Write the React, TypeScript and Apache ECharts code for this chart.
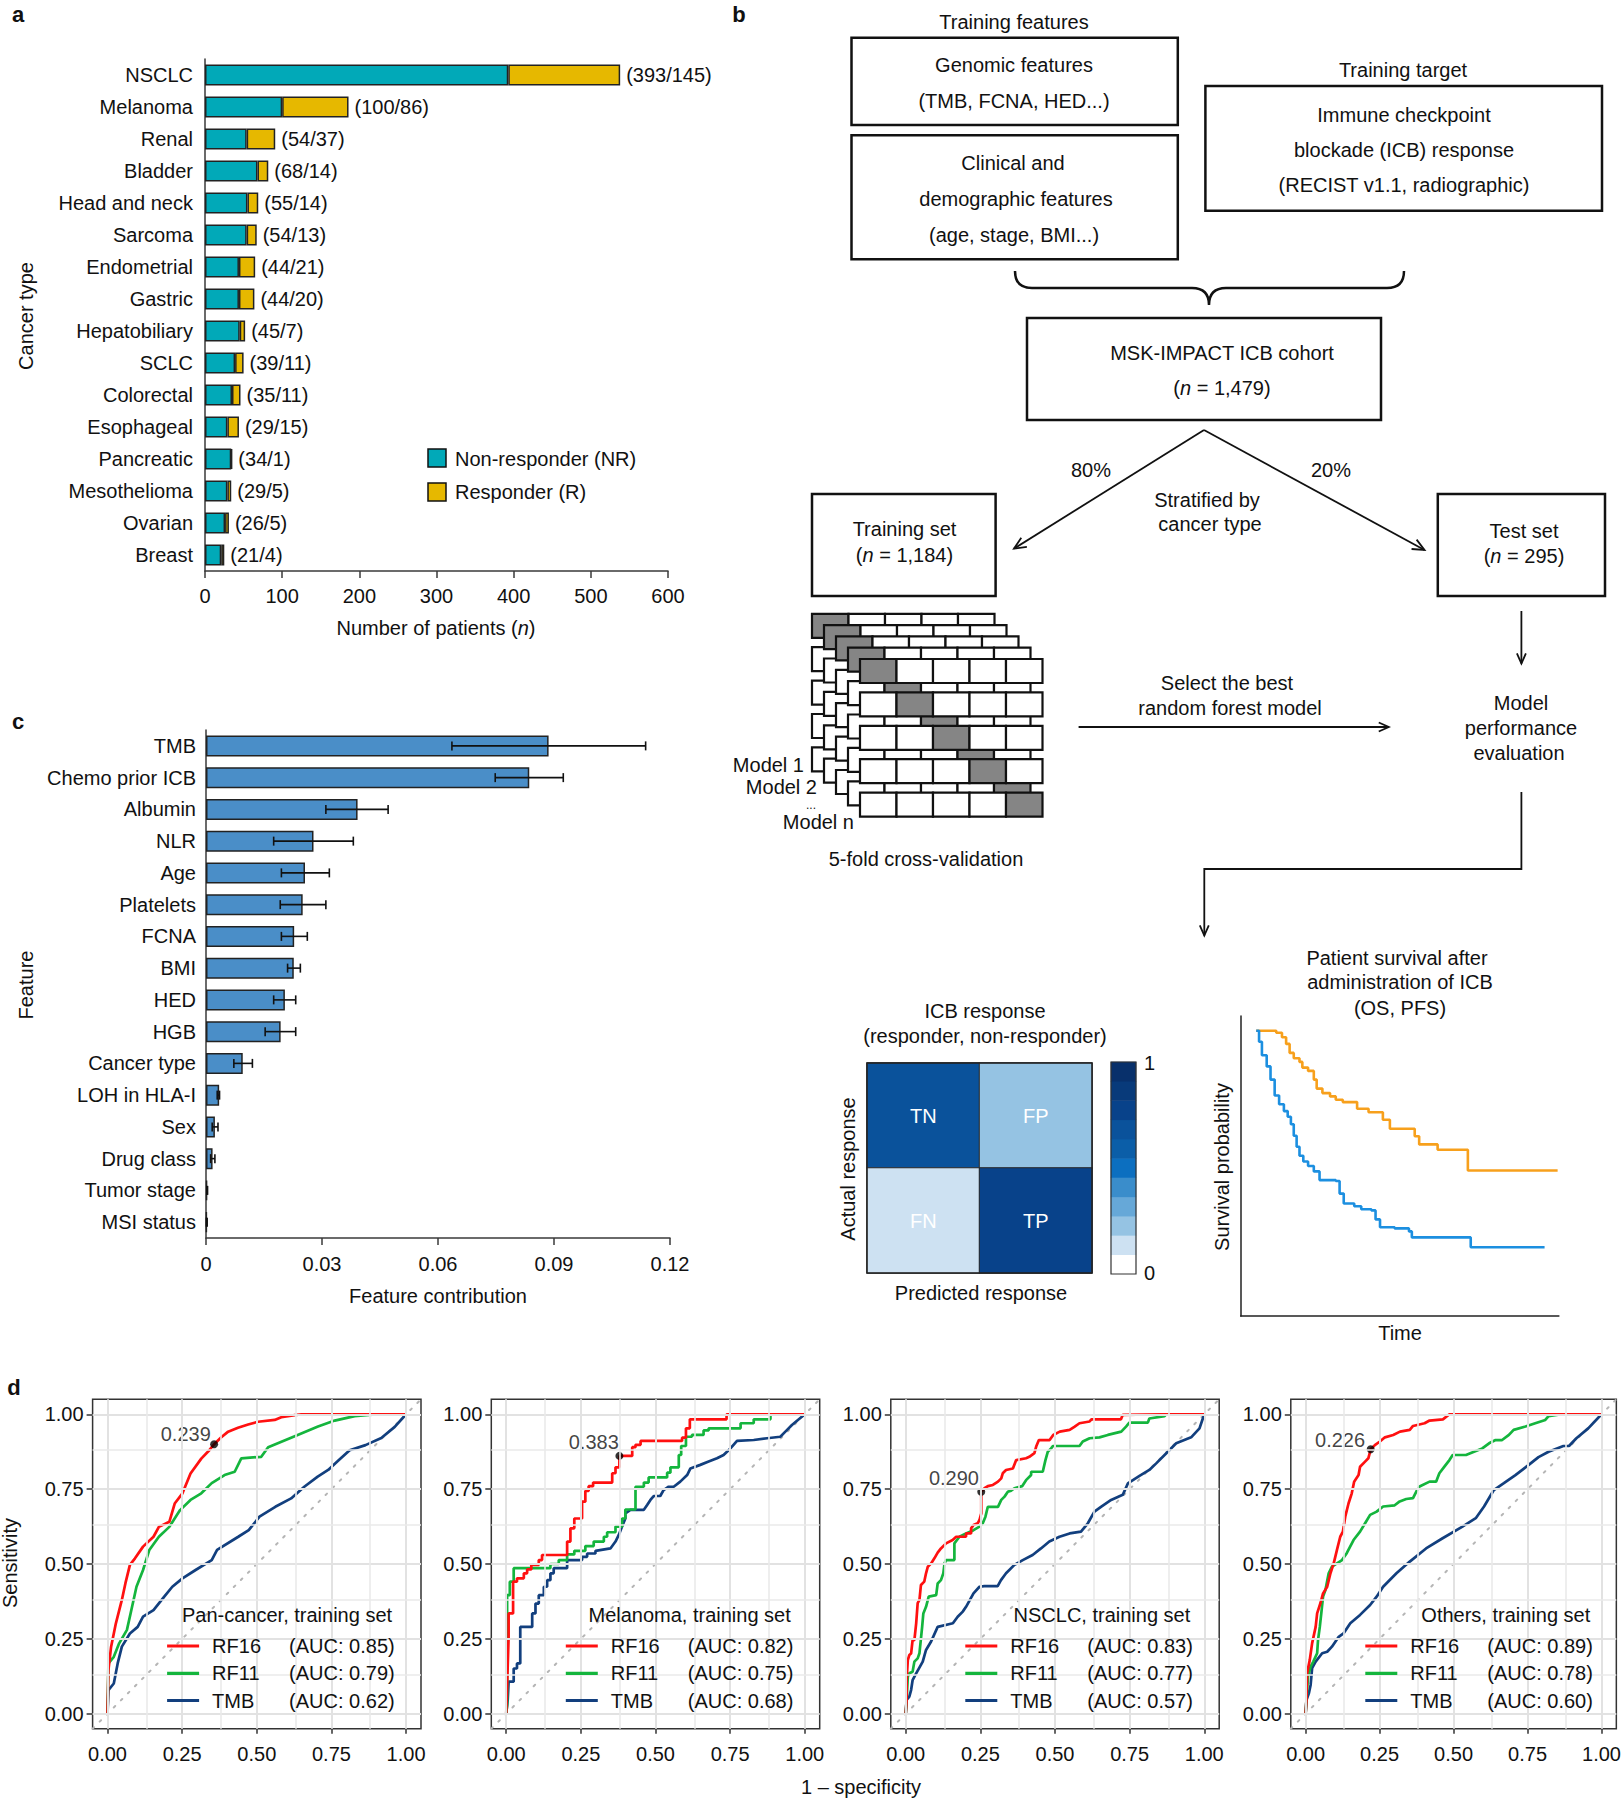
import React, { useEffect, useRef } from "react";
import * as echarts from "echarts";

const FONT = "'Liberation Sans', Arial, Helvetica, sans-serif";
const INK = "#111111";

// ---------------- Panel a: cancer types ----------------
const cancerTypes = ["NSCLC", "Melanoma", "Renal", "Bladder", "Head and neck", "Sarcoma", "Endometrial", "Gastric", "Hepatobiliary", "SCLC", "Colorectal", "Esophageal", "Pancreatic", "Mesothelioma", "Ovarian", "Breast"];
const nonResponders = [393, 100, 54, 68, 55, 54, 44, 44, 45, 39, 35, 29, 34, 29, 26, 21];
const responders = [145, 86, 37, 14, 14, 13, 21, 20, 7, 11, 11, 15, 1, 5, 5, 4];

// ---------------- Panel c: feature contribution ----------------
const features = ["TMB", "Chemo prior ICB", "Albumin", "NLR", "Age", "Platelets", "FCNA", "BMI", "HED", "HGB", "Cancer type", "LOH in HLA-I", "Sex", "Drug class", "Tumor stage", "MSI status"];
const contribution = [0.0886, 0.0836, 0.0392, 0.0278, 0.0256, 0.025, 0.0228, 0.0227, 0.0204, 0.0193, 0.0095, 0.0034, 0.0023, 0.0017, 0.0003, 0.0002];
const contributionLow = [0.0636, 0.0748, 0.031, 0.0175, 0.0195, 0.0192, 0.0195, 0.0211, 0.0175, 0.0153, 0.0072, 0.0029, 0.0016, 0.0012, 0.0002, 0.0001];
const contributionHigh = [0.1137, 0.0924, 0.0471, 0.0381, 0.0319, 0.031, 0.0262, 0.0244, 0.0232, 0.0232, 0.012, 0.0035, 0.0031, 0.0023, 0.0004, 0.0003];

// ---------------- Panel b: schematic mini-charts ----------------
const cmLabels = ["TN", "FP", "FN", "TP"];
const cmValues = [0.68, 0.22, 0.14, 0.77];
const colorbarColors = ["#ffffff", "#cde1f2", "#95c3e3", "#66a8d8", "#3a8dcb", "#0c6fc0", "#0b5ea8", "#0a529b", "#08428a", "#083a7a", "#08306b"];
const survivalResponders = [[4.9, 0.951], [11.2, 0.944], [13.0, 0.929], [14.3, 0.907], [15.4, 0.877], [16.7, 0.859], [18.5, 0.847], [19.4, 0.828], [21.2, 0.817], [23.0, 0.788], [23.9, 0.758], [25.7, 0.743], [28.1, 0.732], [29.9, 0.721], [32.1, 0.713], [36.6, 0.691], [40.2, 0.679], [44.7, 0.654], [46.9, 0.624], [54.7, 0.599], [56.1, 0.572], [61.9, 0.554], [71.4, 0.485], [99.6, 0.485]];
const survivalNonResponders = [[4.9, 0.951], [5.8, 0.914], [6.7, 0.869], [8.2, 0.832], [9.4, 0.788], [10.7, 0.735], [12.1, 0.706], [13.6, 0.683], [14.8, 0.664], [15.8, 0.639], [16.7, 0.601], [17.6, 0.564], [18.5, 0.534], [19.7, 0.515], [21.2, 0.5], [23.0, 0.482], [24.8, 0.453], [29.9, 0.45], [31.1, 0.408], [32.4, 0.375], [35.7, 0.366], [37.9, 0.356], [41.1, 0.352], [42.4, 0.322], [43.8, 0.296], [48.4, 0.292], [52.9, 0.282], [53.8, 0.262], [72.3, 0.229], [95.5, 0.229]];

// ---------------- Panel d: ROC curves ----------------
const panCancerRF16 = [[0, 0], [0.003, 0.146], [0.012, 0.224], [0.028, 0.302], [0.048, 0.38], [0.06, 0.436], [0.075, 0.497], [0.092, 0.519], [0.119, 0.558], [0.154, 0.591], [0.172, 0.624], [0.207, 0.641], [0.225, 0.702], [0.251, 0.736], [0.278, 0.802], [0.314, 0.852], [0.341, 0.88], [0.357, 0.9], [0.381, 0.923], [0.404, 0.942], [0.437, 0.955], [0.471, 0.966], [0.504, 0.975], [0.56, 0.981], [0.582, 0.99], [0.627, 0.997], [0.65, 1], [1, 1]];
const panCancerRF11 = [[0, 0], [0.003, 0.168], [0.021, 0.19], [0.039, 0.235], [0.065, 0.28], [0.08, 0.347], [0.097, 0.424], [0.119, 0.48], [0.14, 0.547], [0.172, 0.591], [0.207, 0.624], [0.243, 0.68], [0.278, 0.714], [0.314, 0.736], [0.349, 0.77], [0.392, 0.797], [0.426, 0.808], [0.448, 0.853], [0.515, 0.858], [0.538, 0.89], [0.627, 0.927], [0.705, 0.959], [0.761, 0.979], [0.828, 0.994], [0.906, 1], [1, 1]];
const panCancerTMB = [[0, 0], [0.003, 0.079], [0.021, 0.101], [0.034, 0.168], [0.048, 0.224], [0.075, 0.268], [0.101, 0.29], [0.119, 0.324], [0.154, 0.346], [0.19, 0.391], [0.217, 0.424], [0.251, 0.452], [0.295, 0.48], [0.349, 0.513], [0.367, 0.547], [0.438, 0.591], [0.473, 0.613], [0.509, 0.658], [0.562, 0.691], [0.615, 0.719], [0.659, 0.758], [0.704, 0.792], [0.739, 0.814], [0.775, 0.847], [0.811, 0.88], [0.864, 0.897], [0.917, 0.921], [0.962, 0.958], [1, 1]];

const melanomaRF16 = [[0, 0], [0.008, 0.257], [0.008, 0.335], [0.023, 0.335], [0.023, 0.441], [0.036, 0.441], [0.036, 0.452], [0.059, 0.452], [0.059, 0.469], [0.07, 0.469], [0.07, 0.482], [0.084, 0.482], [0.084, 0.497], [0.109, 0.497], [0.109, 0.513], [0.12, 0.513], [0.12, 0.53], [0.204, 0.53], [0.204, 0.575], [0.215, 0.575], [0.215, 0.619], [0.228, 0.619], [0.228, 0.652], [0.254, 0.652], [0.254, 0.708], [0.265, 0.708], [0.265, 0.744], [0.276, 0.744], [0.276, 0.76], [0.291, 0.76], [0.291, 0.772], [0.355, 0.772], [0.355, 0.803], [0.366, 0.803], [0.366, 0.823], [0.379, 0.823], [0.379, 0.861], [0.422, 0.861], [0.422, 0.89], [0.433, 0.89], [0.433, 0.898], [0.45, 0.898], [0.45, 0.911], [0.589, 0.911], [0.589, 0.922], [0.602, 0.922], [0.602, 0.953], [0.615, 0.953], [0.615, 0.983], [0.738, 0.983], [0.738, 1], [1, 1]];
const melanomaRF11 = [[0, 0], [0.003, 0.03], [0.003, 0.396], [0.012, 0.396], [0.012, 0.441], [0.025, 0.441], [0.025, 0.486], [0.148, 0.486], [0.148, 0.5], [0.176, 0.5], [0.176, 0.513], [0.204, 0.513], [0.204, 0.532], [0.228, 0.532], [0.228, 0.544], [0.265, 0.544], [0.265, 0.56], [0.293, 0.56], [0.293, 0.575], [0.327, 0.575], [0.327, 0.591], [0.338, 0.591], [0.338, 0.606], [0.366, 0.606], [0.366, 0.625], [0.388, 0.625], [0.388, 0.652], [0.399, 0.652], [0.399, 0.682], [0.433, 0.682], [0.433, 0.758], [0.461, 0.758], [0.461, 0.772], [0.477, 0.772], [0.477, 0.789], [0.539, 0.789], [0.539, 0.805], [0.55, 0.805], [0.55, 0.823], [0.578, 0.823], [0.578, 0.864], [0.586, 0.864], [0.586, 0.894], [0.602, 0.894], [0.602, 0.925], [0.622, 0.925], [0.622, 0.931], [0.661, 0.931], [0.661, 0.946], [0.678, 0.946], [0.678, 0.953], [0.785, 0.953], [0.785, 0.97], [0.829, 0.97], [0.829, 0.983], [0.885, 0.983], [0.885, 1], [1, 1]];
const melanomaTMB = [[0, 0], [0.005, 0.046], [0.008, 0.107], [0.025, 0.107], [0.025, 0.151], [0.036, 0.151], [0.036, 0.168], [0.047, 0.168], [0.047, 0.29], [0.087, 0.29], [0.087, 0.335], [0.098, 0.335], [0.098, 0.368], [0.109, 0.368], [0.109, 0.396], [0.126, 0.396], [0.126, 0.424], [0.137, 0.424], [0.137, 0.446], [0.148, 0.446], [0.148, 0.469], [0.159, 0.469], [0.159, 0.486], [0.204, 0.486], [0.204, 0.513], [0.254, 0.513], [0.254, 0.524], [0.271, 0.524], [0.271, 0.535], [0.299, 0.535], [0.299, 0.544], [0.349, 0.552], [0.366, 0.575], [0.377, 0.597], [0.388, 0.625], [0.399, 0.652], [0.399, 0.669], [0.416, 0.681], [0.461, 0.681], [0.472, 0.697], [0.483, 0.714], [0.494, 0.727], [0.516, 0.727], [0.527, 0.747], [0.544, 0.758], [0.561, 0.758], [0.583, 0.775], [0.606, 0.797], [0.617, 0.819], [0.65, 0.831], [0.678, 0.842], [0.706, 0.853], [0.728, 0.864], [0.751, 0.886], [0.773, 0.911], [0.829, 0.914], [0.874, 0.92], [0.918, 0.925], [0.935, 0.942], [0.957, 0.964], [1, 1]];

const nsclcRF16 = [[0, 0], [0.003, 0.046], [0.003, 0.112], [0.007, 0.179], [0.012, 0.196], [0.018, 0.201], [0.023, 0.246], [0.029, 0.246], [0.035, 0.302], [0.04, 0.369], [0.046, 0.38], [0.051, 0.43], [0.062, 0.441], [0.068, 0.469], [0.074, 0.491], [0.085, 0.502], [0.096, 0.519], [0.107, 0.538], [0.118, 0.552], [0.135, 0.569], [0.157, 0.58], [0.169, 0.591], [0.202, 0.591], [0.202, 0.602], [0.219, 0.602], [0.219, 0.619], [0.227, 0.63], [0.241, 0.636], [0.247, 0.647], [0.253, 0.669], [0.253, 0.741], [0.264, 0.753], [0.275, 0.76], [0.292, 0.764], [0.309, 0.775], [0.32, 0.786], [0.325, 0.803], [0.336, 0.814], [0.359, 0.819], [0.37, 0.847], [0.403, 0.853], [0.414, 0.858], [0.431, 0.87], [0.437, 0.892], [0.446, 0.914], [0.482, 0.914], [0.494, 0.931], [0.516, 0.942], [0.549, 0.948], [0.566, 0.959], [0.582, 0.97], [0.616, 0.976], [0.622, 0.983], [0.721, 0.983], [0.727, 0.998], [0.861, 1], [1, 1]];
const nsclcRF11 = [[0, 0], [0.003, 0.046], [0.007, 0.124], [0.012, 0.135], [0.023, 0.14], [0.029, 0.174], [0.04, 0.185], [0.046, 0.202], [0.055, 0.29], [0.059, 0.335], [0.068, 0.357], [0.077, 0.391], [0.102, 0.396], [0.107, 0.435], [0.118, 0.446], [0.126, 0.469], [0.13, 0.502], [0.135, 0.513], [0.163, 0.513], [0.163, 0.569], [0.18, 0.591], [0.202, 0.602], [0.227, 0.613], [0.247, 0.625], [0.258, 0.636], [0.267, 0.658], [0.275, 0.691], [0.309, 0.691], [0.32, 0.714], [0.331, 0.725], [0.342, 0.741], [0.353, 0.745], [0.364, 0.753], [0.375, 0.756], [0.39, 0.76], [0.403, 0.78], [0.42, 0.797], [0.42, 0.808], [0.459, 0.808], [0.468, 0.847], [0.476, 0.875], [0.487, 0.886], [0.493, 0.894], [0.582, 0.894], [0.593, 0.909], [0.616, 0.92], [0.649, 0.923], [0.677, 0.931], [0.722, 0.942], [0.738, 0.959], [0.749, 0.972], [0.811, 0.972], [0.816, 0.986], [0.867, 0.994], [0.872, 1], [1, 1]];
const nsclcTMB = [[0, 0], [0.003, 0.046], [0.012, 0.057], [0.018, 0.079], [0.023, 0.112], [0.035, 0.135], [0.057, 0.174], [0.068, 0.213], [0.085, 0.241], [0.107, 0.29], [0.158, 0.302], [0.174, 0.324], [0.191, 0.341], [0.202, 0.357], [0.227, 0.402], [0.247, 0.424], [0.263, 0.426], [0.308, 0.426], [0.319, 0.446], [0.336, 0.469], [0.364, 0.497], [0.392, 0.513], [0.425, 0.53], [0.453, 0.552], [0.481, 0.575], [0.515, 0.591], [0.549, 0.602], [0.587, 0.608], [0.61, 0.636], [0.632, 0.675], [0.654, 0.691], [0.688, 0.714], [0.727, 0.731], [0.744, 0.769], [0.783, 0.794], [0.816, 0.814], [0.839, 0.836], [0.872, 0.869], [0.906, 0.903], [0.956, 0.923], [0.984, 0.953], [1, 1]];

const othersRF16 = [[0, 0], [0.003, 0.046], [0.005, 0.135], [0.014, 0.179], [0.022, 0.235], [0.034, 0.29], [0.039, 0.335], [0.05, 0.369], [0.059, 0.402], [0.073, 0.424], [0.084, 0.469], [0.095, 0.502], [0.106, 0.547], [0.117, 0.591], [0.126, 0.608], [0.134, 0.658], [0.145, 0.702], [0.156, 0.736], [0.164, 0.775], [0.179, 0.797], [0.184, 0.825], [0.201, 0.842], [0.212, 0.853], [0.22, 0.883], [0.234, 0.897], [0.251, 0.909], [0.268, 0.923], [0.296, 0.931], [0.319, 0.942], [0.352, 0.948], [0.363, 0.961], [0.402, 0.97], [0.419, 0.979], [0.464, 0.983], [0.486, 1], [1, 1]];
const othersRF11 = [[0, 0], [0.003, 0.046], [0.008, 0.124], [0.017, 0.157], [0.026, 0.174], [0.039, 0.202], [0.042, 0.246], [0.048, 0.29], [0.053, 0.335], [0.059, 0.391], [0.067, 0.413], [0.078, 0.469], [0.089, 0.491], [0.106, 0.502], [0.123, 0.513], [0.139, 0.536], [0.162, 0.58], [0.184, 0.608], [0.201, 0.636], [0.218, 0.664], [0.24, 0.675], [0.262, 0.692], [0.301, 0.696], [0.318, 0.709], [0.34, 0.717], [0.363, 0.72], [0.374, 0.742], [0.385, 0.759], [0.419, 0.775], [0.441, 0.775], [0.452, 0.803], [0.469, 0.825], [0.486, 0.847], [0.497, 0.864], [0.542, 0.864], [0.569, 0.875], [0.597, 0.886], [0.62, 0.903], [0.642, 0.914], [0.664, 0.914], [0.687, 0.931], [0.703, 0.948], [0.743, 0.959], [0.776, 0.97], [0.81, 0.981], [0.821, 0.994], [0.865, 1], [1, 1]];
const othersTMB = [[0, 0], [0.003, 0.046], [0.011, 0.068], [0.017, 0.096], [0.022, 0.152], [0.034, 0.174], [0.056, 0.202], [0.073, 0.207], [0.089, 0.224], [0.112, 0.257], [0.128, 0.268], [0.151, 0.302], [0.184, 0.33], [0.218, 0.363], [0.24, 0.391], [0.262, 0.424], [0.307, 0.469], [0.352, 0.508], [0.407, 0.552], [0.463, 0.586], [0.53, 0.625], [0.575, 0.653], [0.603, 0.692], [0.636, 0.747], [0.67, 0.77], [0.709, 0.797], [0.754, 0.831], [0.787, 0.857], [0.821, 0.875], [0.871, 0.894], [0.89, 0.894], [0.915, 0.92], [0.955, 0.953], [1, 1]];

const rocTitles = ["Pan-cancer, training set", "Melanoma, training set", "NSCLC, training set", "Others, training set"];
const rocRF16 = [panCancerRF16, melanomaRF16, nsclcRF16, othersRF16];
const rocRF11 = [panCancerRF11, melanomaRF11, nsclcRF11, othersRF11];
const rocTMB = [panCancerTMB, melanomaTMB, nsclcTMB, othersTMB];
const aucRF16 = [0.85, 0.82, 0.83, 0.89];
const aucRF11 = [0.79, 0.75, 0.77, 0.78];
const aucTMB = [0.62, 0.68, 0.57, 0.6];
const thresholdPoints = [[0.357, 0.9], [0.379, 0.861], [0.253, 0.741], [0.22, 0.883]];
const thresholdLabels = ["0.239", "0.383", "0.290", "0.226"];
const rocTicks = [0, 0.25, 0.5, 0.75, 1];
const rocMinorGrid = [0.125, 0.375, 0.625, 0.875];

// ---------------- styling constants ----------------
const TEAL = "#01a9b8";
const GOLD = "#e6b800";
const STEEL = "#4a8ec8";
const RED = "#ff1010";
const GREEN = "#14b53d";
const NAVY = "#123f7e";
const ORANGE = "#f7a01c";
const SKY = "#1c8fe0";

const BRACE_D = "M1015,271 Q1015,288 1032,288 L1192,288 Q1209,288 1209,305 Q1209,288 1226,288 L1387,288 Q1404,288 1404,271";
let braceRegistered = false;
function registerBrace() {
  if (braceRegistered) return;
  try {
    echarts.graphic.registerShape("brace", echarts.graphic.extendPath(BRACE_D, {}));
  } catch (e) {}
  braceRegistered = true;
}

const italicRich = { i: { fontStyle: "italic", fontSize: 20, fontFamily: FONT, fill: INK } };

function txt(x: number, y: number, text: string, o: any = {}) {
  return {
    type: "text",
    x,
    y,
    z: 100,
    silent: true,
    rotation: o.rotation || 0,
    style: {
      text,
      fontSize: o.size || 20,
      fontFamily: FONT,
      fontWeight: o.weight || "normal",
      fontStyle: "normal",
      fill: o.color || INK,
      align: o.align || "center",
      verticalAlign: "middle",
      textAlign: o.align || "center",
      textVerticalAlign: "middle",
      rich: o.rich,
    },
  };
}
function box(x: number, y: number, w: number, h: number, o: any = {}) {
  return {
    type: "rect",
    z: o.z || 100,
    z2: o.z2 || 0,
    silent: true,
    shape: { x, y, width: w, height: h },
    style: { fill: o.fill || "#ffffff", stroke: o.stroke || INK, lineWidth: o.lw || 2.5 },
  };
}
function seg(x1: number, y1: number, x2: number, y2: number, lw = 1.8, color = INK) {
  return { type: "line", z: 100, silent: true, shape: { x1, y1, x2, y2 }, style: { stroke: color, lineWidth: lw } };
}
function arrowHead(x1: number, y1: number, x2: number, y2: number, len = 13, ang = 0.42) {
  const a = Math.atan2(y2 - y1, x2 - x1);
  return {
    type: "polyline",
    z: 100,
    silent: true,
    shape: {
      points: [
        [x2 - len * Math.cos(a - ang), y2 - len * Math.sin(a - ang)],
        [x2, y2],
        [x2 - len * Math.cos(a + ang), y2 - len * Math.sin(a + ang)],
      ],
    },
    style: { stroke: INK, fill: "none", lineWidth: 1.8 },
  };
}

const ROC_LEFT = [92.6, 491.3, 890.8, 1290.8];
const ROC_TOP = 1399.3;
const ROC_W = 328.4;
const ROC_H = 329.4;
const THRESH_OFFSETS = [[0.7, -10.7], [3.4, -14], [1.7, -13.4], [-1.6, -9.3]];

function buildGraphics() {
  const g: any[] = [];
  // panel letters
  g.push(txt(18, 14, "a", { weight: "bold", size: 22 }));
  g.push(txt(739, 14, "b", { weight: "bold", size: 22 }));
  g.push(txt(18, 721, "c", { weight: "bold", size: 22 }));
  g.push(txt(14, 1387, "d", { weight: "bold", size: 22 }));

  // panel a titles + legend
  g.push(txt(26, 316, "Cancer type", { rotation: Math.PI / 2 }));
  g.push(txt(436, 628, "Number of patients ({i|n})", { rich: italicRich }));
  g.push(box(428, 449, 18, 18, { fill: TEAL, lw: 1.5 }));
  g.push(box(428, 483, 18, 18, { fill: GOLD, lw: 1.5 }));
  g.push(txt(455, 459, "Non-responder (NR)", { align: "left" }));
  g.push(txt(455, 492, "Responder (R)", { align: "left" }));

  // panel c titles
  g.push(txt(26, 985, "Feature", { rotation: Math.PI / 2 }));
  g.push(txt(438, 1296, "Feature contribution"));

  // panel b flowchart
  g.push(txt(1014, 22, "Training features"));
  g.push(box(851.5, 37.7, 326.3, 87.2));
  g.push(txt(1014, 65, "Genomic features"));
  g.push(txt(1014, 100.6, "(TMB, FCNA, HED...)"));
  g.push(box(851.5, 135.3, 326.3, 124));
  g.push(txt(1013, 163, "Clinical and"));
  g.push(txt(1016, 198.6, "demographic features"));
  g.push(txt(1014, 234.6, "(age, stage, BMI...)"));
  g.push(txt(1403, 70, "Training target"));
  g.push(box(1205.4, 85.9, 396.6, 124.9));
  g.push(txt(1404, 114.5, "Immune checkpoint"));
  g.push(txt(1404, 150, "blockade (ICB) response"));
  g.push(txt(1404, 185, "(RECIST v1.1, radiographic)"));
  g.push({ type: "brace", x: 0, y: 0, z: 100, silent: true, style: { fill: "none", stroke: INK, lineWidth: 2.5 } });
  g.push(box(1027, 318, 354, 102));
  g.push(txt(1222, 352.5, "MSK-IMPACT ICB cohort"));
  g.push(txt(1222, 388, "({i|n} = 1,479)", { rich: italicRich }));
  // split arrows
  g.push(seg(1204, 430, 1014, 548.6));
  g.push(arrowHead(1204, 430, 1014, 548.6));
  g.push(seg(1204, 430, 1424.5, 550));
  g.push(arrowHead(1204, 430, 1424.5, 550));
  g.push(txt(1091, 470, "80%"));
  g.push(txt(1331, 470, "20%"));
  g.push(txt(1207, 499.6, "Stratified by"));
  g.push(txt(1210, 524, "cancer type"));
  g.push(box(812, 494, 183.6, 102));
  g.push(txt(904.5, 529, "Training set"));
  g.push(txt(904.5, 555, "({i|n} = 1,184)", { rich: italicRich }));
  g.push(box(1437.8, 494, 167.2, 102));
  g.push(txt(1524, 531, "Test set"));
  g.push(txt(1524, 556, "({i|n} = 295)", { rich: italicRich }));
  g.push(seg(1521.4, 611, 1521.4, 663.5));
  g.push(arrowHead(1521.4, 611, 1521.4, 663.5, 11));

  // cross-validation stacks (5 sheets x 5 folds)
  let zc = 1;
  for (let k = 0; k < 5; k++) {
    const x0 = 860 - (4 - k) * 12;
    const y0 = 659 - (4 - k) * 11.3;
    for (let r = 0; r < 5; r++) {
      for (let c = 0; c < 5; c++) {
        g.push(box(x0 + c * 36.5, y0 + r * 33.4, 36.5, 24, { fill: c === r ? "#858585" : "#ffffff", lw: 2.2, z2: zc++ }));
      }
    }
  }
  g.push(txt(804, 765, "Model 1", { align: "right" }));
  g.push(txt(817, 787, "Model 2", { align: "right" }));
  g.push(txt(811, 804.5, "...", { size: 12 }));
  g.push(txt(854, 822, "Model n", { align: "right" }));
  g.push(txt(926, 859, "5-fold cross-validation"));
  g.push(txt(1227, 683, "Select the best"));
  g.push(txt(1230, 708, "random forest model"));
  g.push(seg(1078.6, 727, 1388.8, 727));
  g.push(arrowHead(1078.6, 727, 1388.8, 727, 11));
  g.push(txt(1521, 702.5, "Model"));
  g.push(txt(1521, 728, "performance"));
  g.push(txt(1519, 752.5, "evaluation"));
  g.push({
    type: "polyline",
    z: 100,
    silent: true,
    shape: { points: [[1521.4, 792], [1521.4, 869], [1204.3, 869], [1204.3, 935.5]] },
    style: { stroke: INK, fill: "none", lineWidth: 1.8 },
  });
  g.push(arrowHead(1204.3, 869, 1204.3, 935.5, 11));

  // confusion matrix annotations
  g.push(txt(985, 1010.5, "ICB response"));
  g.push(txt(985, 1036, "(responder, non-responder)"));
  g.push(txt(848, 1169, "Actual response", { rotation: Math.PI / 2 }));
  g.push(txt(981, 1293, "Predicted response"));
  g.push({ type: "rect", z: 100, silent: true, shape: { x: 867, y: 1063, width: 225, height: 210 }, style: { fill: "none", stroke: "#222", lineWidth: 1.5 } });
  g.push({ type: "rect", z: 100, silent: true, shape: { x: 1111, y: 1062, width: 25, height: 212 }, style: { fill: "none", stroke: "#333", lineWidth: 1.2 } });
  g.push(txt(1149.5, 1063, "1"));
  g.push(txt(1149.5, 1273, "0"));

  // survival annotations
  g.push(txt(1397, 958, "Patient survival after"));
  g.push(txt(1400, 982.4, "administration of ICB"));
  g.push(txt(1400, 1008, "(OS, PFS)"));
  g.push(txt(1222, 1167, "Survival probability", { rotation: Math.PI / 2 }));
  g.push(txt(1400, 1333, "Time"));

  // panel d
  g.push(txt(10, 1563, "Sensitivity", { rotation: Math.PI / 2 }));
  g.push(txt(861, 1787, "1 \u2013 specificity"));
  for (let i = 0; i < 4; i++) {
    const L = ROC_LEFT[i];
    g.push(txt(L + 299.5, 1615, rocTitles[i], { align: "right" }));
    const rows = [
      [RED, "RF16", aucRF16[i], 1646],
      [GREEN, "RF11", aucRF11[i], 1673.3],
      [NAVY, "TMB", aucTMB[i], 1700.5],
    ];
    rows.forEach((r: any) => {
      g.push(seg(L + 74.5, r[3], L + 106.5, r[3], 3.2, r[0]));
      g.push(txt(L + 119.5, r[3], r[1], { align: "left" }));
      g.push(txt(L + 196.5, r[3], `(AUC: ${r[2].toFixed(2)})`, { align: "left" }));
    });
  }
  return g;
}

function buildOption() {
  const axisLineStyle = { color: "#3a3a3a", width: 1.5 };
  const labelBase = { fontSize: 20, fontFamily: FONT, color: INK };

  const grid: any[] = [
    { left: 205, top: 59, width: 463, height: 512 }, // a
    { left: 206, top: 730, width: 464, height: 508 }, // c
    { left: 867, top: 1063, width: 225, height: 210 }, // confusion
    { left: 1111, top: 1062, width: 25, height: 212 }, // colorbar
    { left: 1240.6, top: 1016, width: 318.3, height: 300 }, // survival
  ];
  ROC_LEFT.forEach((L) =>
    grid.push({ left: L, top: ROC_TOP, width: ROC_W, height: ROC_H, show: true, borderColor: "#333", borderWidth: 1.5, backgroundColor: "transparent" })
  );

  const xAxis: any[] = [
    {
      type: "value", gridIndex: 0, min: 0, max: 600, interval: 100,
      axisLine: { show: true, onZero: false, lineStyle: axisLineStyle },
      axisTick: { show: true, length: 7, lineStyle: axisLineStyle },
      axisLabel: { ...labelBase, margin: 15 },
      splitLine: { show: false },
    },
    {
      type: "value", gridIndex: 1, min: 0, max: 0.12, interval: 0.03,
      axisLine: { show: true, onZero: false, lineStyle: axisLineStyle },
      axisTick: { show: true, length: 7, lineStyle: axisLineStyle },
      axisLabel: { ...labelBase, margin: 16, formatter: (v: number) => (v === 0 ? "0" : v.toFixed(2)) },
      splitLine: { show: false },
    },
    { type: "category", gridIndex: 2, data: ["NR", "R"], show: false },
    { type: "category", gridIndex: 3, data: ["bar"], show: false },
    {
      type: "value", gridIndex: 4, min: 0, max: 100,
      axisLine: { show: true, onZero: false, lineStyle: { color: "#222", width: 1.5 } },
      axisTick: { show: false }, axisLabel: { show: false }, splitLine: { show: false },
    },
  ];
  const yAxis: any[] = [
    {
      type: "category", gridIndex: 0, data: cancerTypes, inverse: true,
      axisLine: { show: true, onZero: false, lineStyle: axisLineStyle },
      axisTick: { show: false },
      axisLabel: { ...labelBase, margin: 12 },
    },
    {
      type: "category", gridIndex: 1, data: features, inverse: true,
      axisLine: { show: true, onZero: false, lineStyle: axisLineStyle },
      axisTick: { show: false },
      axisLabel: { ...labelBase, margin: 10 },
    },
    { type: "category", gridIndex: 2, data: ["R", "NR"], show: false },
    { type: "category", gridIndex: 3, data: colorbarColors.map((_, i) => String(i)), show: false },
    {
      type: "value", gridIndex: 4, min: 0, max: 1,
      axisLine: { show: true, onZero: false, lineStyle: { color: "#222", width: 1.5 } },
      axisTick: { show: false }, axisLabel: { show: false }, splitLine: { show: false },
    },
  ];
  for (let i = 0; i < 4; i++) {
    const gi = 5 + i;
    xAxis.push({
      type: "value", gridIndex: gi, min: -0.05, max: 1.05,
      axisLine: { show: false, onZero: false },
      axisTick: { show: true, length: 5, customValues: rocTicks, lineStyle: { color: "#333", width: 1.5 } },
      axisLabel: { ...labelBase, margin: 15, customValues: rocTicks, formatter: (v: number) => v.toFixed(2) },
      splitLine: { show: false },
    });
    yAxis.push({
      type: "value", gridIndex: gi, min: -0.05, max: 1.05,
      axisLine: { show: false, onZero: false },
      axisTick: { show: true, length: 6, customValues: rocTicks, lineStyle: { color: "#333", width: 1.5 } },
      axisLabel: { ...labelBase, margin: 9, customValues: rocTicks, formatter: (v: number) => v.toFixed(2) },
      splitLine: { show: false },
    });
  }

  const series: any[] = [];
  // panel a
  series.push({
    type: "bar", name: "Non-responder (NR)", xAxisIndex: 0, yAxisIndex: 0, stack: "a", barWidth: 21,
    data: nonResponders,
    itemStyle: { color: TEAL, borderColor: "#222", borderWidth: 1.5 },
  });
  series.push({
    type: "bar", name: "Responder (R)", xAxisIndex: 0, yAxisIndex: 0, stack: "a", barWidth: 21,
    data: responders,
    itemStyle: { color: GOLD, borderColor: "#222", borderWidth: 1.5 },
    label: {
      show: true, position: "right", distance: 6, ...labelBase,
      formatter: (p: any) => `(${nonResponders[p.dataIndex]}/${responders[p.dataIndex]})`,
    },
  });
  // panel c
  series.push({
    type: "bar", xAxisIndex: 1, yAxisIndex: 1, barWidth: 21, data: contribution,
    itemStyle: { color: STEEL, borderColor: "#222", borderWidth: 1.5 },
  });
  series.push({
    type: "custom", xAxisIndex: 1, yAxisIndex: 1, z: 5,
    data: features.map((_, i) => [contributionLow[i], contributionHigh[i], i]),
    encode: { x: [0, 1], y: 2 },
    renderItem: (params: any, api: any) => {
      const lo = api.coord([api.value(0), api.value(2)]);
      const hi = api.coord([api.value(1), api.value(2)]);
      const h = 4.5;
      const st = { stroke: "#111", lineWidth: 1.6 };
      return {
        type: "group",
        children: [
          { type: "line", shape: { x1: lo[0], y1: lo[1], x2: hi[0], y2: hi[1] }, style: st },
          { type: "line", shape: { x1: lo[0], y1: lo[1] - h, x2: lo[0], y2: lo[1] + h }, style: st },
          { type: "line", shape: { x1: hi[0], y1: hi[1] - h, x2: hi[0], y2: hi[1] + h }, style: st },
        ],
      };
    },
  });
  // confusion matrix
  const cmIdx = series.length;
  series.push({
    type: "heatmap", xAxisIndex: 2, yAxisIndex: 2,
    data: [[0, 1, cmValues[0]], [1, 1, cmValues[1]], [0, 0, cmValues[2]], [1, 0, cmValues[3]]],
    itemStyle: { borderColor: "#2a2a2a", borderWidth: 1 },
    label: { show: true, color: "#ffffff", fontSize: 20, fontFamily: FONT, formatter: (p: any) => cmLabels[p.dataIndex] },
  });
  const cbIdx = series.length;
  series.push({
    type: "heatmap", xAxisIndex: 3, yAxisIndex: 3,
    data: colorbarColors.map((_, i) => [0, i, (i + 0.5) / colorbarColors.length]),
  });
  // survival
  series.push({
    type: "line", xAxisIndex: 4, yAxisIndex: 4, step: "end", showSymbol: false, data: survivalResponders,
    lineStyle: { color: ORANGE, width: 2.6 }, itemStyle: { color: ORANGE },
  });
  series.push({
    type: "line", xAxisIndex: 4, yAxisIndex: 4, step: "end", showSymbol: false, data: survivalNonResponders,
    lineStyle: { color: SKY, width: 2.6 }, itemStyle: { color: SKY },
  });
  // ROC panels
  for (let i = 0; i < 4; i++) {
    const gi = 5 + i;
    const gl: any[] = [];
    rocTicks.forEach((v) => {
      gl.push({ xAxis: v, lineStyle: { color: "#e2e2e2", width: 2, type: "solid" } });
      gl.push({ yAxis: v, lineStyle: { color: "#e2e2e2", width: 2, type: "solid" } });
    });
    rocMinorGrid.forEach((v) => {
      gl.push({ xAxis: v, lineStyle: { color: "#eaeaea", width: 1.6, type: "solid" } });
      gl.push({ yAxis: v, lineStyle: { color: "#eaeaea", width: 1.6, type: "solid" } });
    });
    series.push({
      type: "line", xAxisIndex: gi, yAxisIndex: gi, data: [], z: 1, silent: true,
      markLine: { silent: true, symbol: ["none", "none"], label: { show: false }, data: gl, animation: false },
    });
    series.push({
      type: "line", xAxisIndex: gi, yAxisIndex: gi, z: 2, silent: true, showSymbol: false,
      data: [[-0.05, -0.05], [1.05, 1.05]],
      lineStyle: { color: "#b5b5b5", width: 2, type: [2, 8], cap: "round" },
    });
    [[rocTMB[i], NAVY], [rocRF11[i], GREEN], [rocRF16[i], RED]].forEach((d: any) => {
      series.push({
        type: "line", xAxisIndex: gi, yAxisIndex: gi, z: 3, showSymbol: false, data: d[0],
        lineStyle: { color: d[1], width: 2.7 }, itemStyle: { color: d[1] },
      });
    });
    series.push({
      type: "scatter", xAxisIndex: gi, yAxisIndex: gi, z: 4, symbolSize: 8,
      data: [thresholdPoints[i]],
      itemStyle: { color: "#000" },
      label: {
        show: true, position: "left", distance: 0, offset: THRESH_OFFSETS[i], ...labelBase,
        formatter: () => thresholdLabels[i],
      },
    });
  }

  const n = colorbarColors.length;
  return {
    animation: false,
    backgroundColor: "#ffffff",
    textStyle: { fontFamily: FONT },
    grid,
    xAxis,
    yAxis,
    visualMap: [
      {
        type: "piecewise", show: false, seriesIndex: [cmIdx, cbIdx], dimension: 2,
        pieces: colorbarColors.map((c, i) => ({ min: i / n, max: (i + 1) / n, color: c })),
      },
    ],
    series,
    graphic: { elements: buildGraphics() },
  };
}

export default function App() {
  const ref = useRef<HTMLDivElement>(null);
  useEffect(() => {
    if (!ref.current) return;
    registerBrace();
    const chart = echarts.init(ref.current, null, { renderer: "svg" });
    chart.setOption(buildOption() as any);
    return () => chart.dispose();
  }, []);
  return <div ref={ref} style={{ position: "absolute", left: 0, top: 0, width: 1624, height: 1800, background: "#fff" }} />;
}
